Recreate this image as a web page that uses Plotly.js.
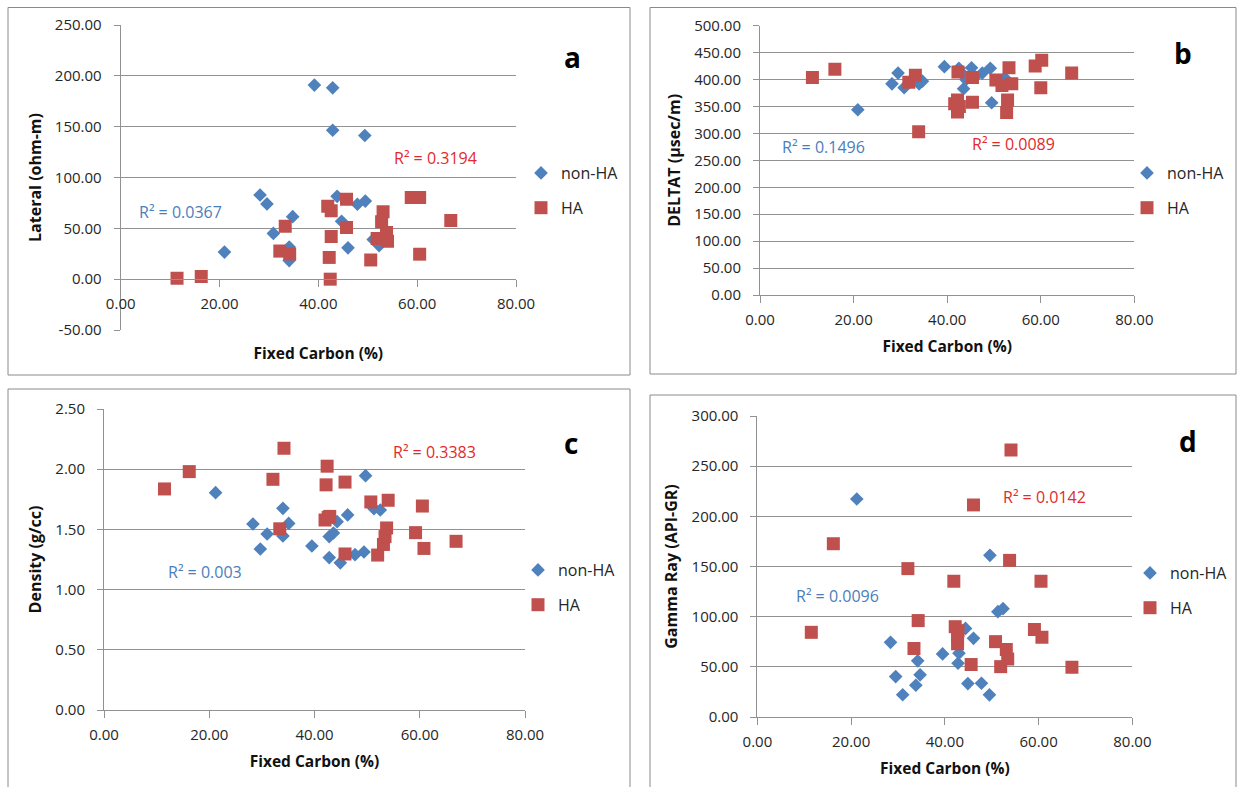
<!DOCTYPE html>
<html><head><meta charset="utf-8">
<script src="https://cdn.plot.ly/plotly-3.0.1.min.js"></script>
<style>html,body{margin:0;padding:0;background:#fff}#chart{width:1239px;height:787px}</style>
</head><body><div id="chart"></div>
<script>
// ---------- DATA ----------
const seriesNames = ['non-HA', 'HA'];
const xTitle = 'Fixed Carbon (%)';
const yTitles = ['Lateral (ohm-m)', 'DELTAT (µsec/m)', 'Density (g/cc)', 'Gamma Ray (API-GR)'];
const panelLetters = ['a', 'b', 'c', 'd'];
const r2NonHA = ['R² = 0.0367', 'R² = 0.1496', 'R² = 0.003', 'R² = 0.0096'];
const r2HA = ['R² = 0.3194', 'R² = 0.0089', 'R² = 0.3383', 'R² = 0.0142'];

// Panel a: Lateral (ohm-m)
const latNonHAx = [39.2, 42.9, 42.9, 49.4, 28.2, 29.6, 34.8, 30.9, 21.0, 34.1, 34.1, 43.8, 44.7, 46.0, 47.9, 49.5, 51.1, 52.3];
const latNonHAy = [190.9, 188.2, 146.5, 141.3, 82.8, 74.0, 61.5, 45.0, 26.6, 31.6, 18.3, 81.5, 57.0, 30.8, 73.7, 76.8, 39.0, 33.0];
const latHAx = [11.4, 16.3, 32.2, 33.3, 34.2, 41.9, 42.6, 42.6, 42.2, 42.4, 45.7, 45.7, 50.6, 51.9, 52.8, 53.1, 53.8, 54.0, 58.8, 60.5, 60.5, 66.8];
const latHAy = [1.0, 2.6, 27.6, 52.0, 24.8, 71.6, 67.4, 42.0, 21.4, 0.0, 78.5, 50.8, 18.9, 39.9, 56.4, 66.4, 45.9, 37.4, 80.3, 80.3, 24.6, 57.8];
const latTickVals = [-50, 0, 50, 100, 150, 200, 250];
const latTickText = ['-50.00', '0.00', '50.00', '100.00', '150.00', '200.00', '250.00'];

// Panel b: DELTAT (µsec/m)
const dtNonHAx = [20.9, 28.2, 29.5, 30.8, 34.0, 34.7, 39.4, 42.5, 43.5, 44.0, 45.2, 47.5, 49.2, 49.5, 52.3, 51.0, 42.9, 46.0];
const dtNonHAy = [344, 392, 412, 385, 392, 397, 424, 421, 383, 400, 422, 412, 421, 357, 403, 398, 414, 405];
const dtHAx = [11.2, 16.0, 31.8, 33.2, 33.9, 42.3, 41.6, 42.2, 42.2, 42.6, 45.4, 45.4, 50.4, 51.7, 53.2, 53.8, 52.9, 52.7, 58.8, 60.2, 60.0, 66.6];
const dtHAy = [404, 419, 395, 408, 303, 414, 355, 362, 340, 350, 404, 358, 399, 389, 422, 392, 362, 339, 425, 436, 385, 412];

// Panel c: Density (g/cc)
const denNonHAx = [21.2, 28.3, 29.7, 31.0, 34.0, 35.1, 34.0, 39.5, 42.8, 43.6, 44.3, 42.8, 44.9, 46.3, 47.7, 49.4, 49.7, 51.3, 52.5];
const denNonHAy = [1.805, 1.545, 1.337, 1.462, 1.675, 1.55, 1.446, 1.362, 1.44, 1.47, 1.564, 1.266, 1.222, 1.62, 1.29, 1.312, 1.946, 1.672, 1.661];
const denHAx = [11.5, 16.2, 32.1, 34.2, 33.4, 42.4, 42.2, 45.8, 42.0, 42.9, 42.6, 45.8, 50.7, 54.0, 52.0, 53.1, 53.4, 53.7, 60.5, 59.2, 60.8, 66.9];
const denHAy = [1.836, 1.98, 1.916, 2.174, 1.505, 2.025, 1.87, 1.893, 1.578, 1.608, 1.60, 1.296, 1.728, 1.742, 1.287, 1.375, 1.44, 1.512, 1.694, 1.473, 1.342, 1.401];

// Panel d: Gamma Ray (API-GR)
const grNonHAx = [21.2, 28.4, 29.5, 31.0, 34.2, 33.8, 34.7, 39.5, 42.8, 43.0, 44.4, 44.9, 46.1, 47.8, 49.6, 49.5, 51.3, 52.4];
const grNonHAy = [217.3, 74.4, 40.3, 22.2, 56.0, 31.6, 42.0, 62.9, 53.6, 63.5, 88.3, 33.3, 78.4, 33.6, 161.1, 22.1, 105.0, 108.0];
const grHAx = [11.5, 16.2, 32.1, 33.4, 34.3, 41.9, 42.2, 42.8, 42.7, 42.7, 45.6, 46.1, 50.8, 51.9, 53.1, 53.4, 53.8, 54.1, 59.1, 60.7, 60.5, 67.1];
const grHAy = [84.4, 172.7, 147.9, 68.3, 96.1, 135.3, 90.0, 86.0, 80.0, 73.0, 52.3, 211.4, 75.1, 50.2, 67.3, 57.8, 156.1, 266.0, 87.2, 79.4, 135.3, 49.6];

// ---------- STYLE / LAYOUT ----------
const W = 1239, H = 787;
const FONT = 'Open Sans, Liberation Sans, sans-serif';
const BLUE = '#4F81BD', RED = '#C0504D';
const BLUE_TXT = '#4A7EBB', RED_TXT = '#E3292B';
const GRID = '#929292';
const px = p => p / W;
const py = p => 1 - p / H;

const panels = [
  { nx: latNonHAx, ny: latNonHAy, hx: latHAx, hy: latHAy,
    plot: [120.7, 25, 516, 330], yr: [-50, 250], dt: 50, xAxisPx: 279,
    tickvals: latTickVals, ticktext: latTickText,
    box: [8, 7.5, 630, 375], letter: [572, 57], r2n: [180, 212], r2h: [435, 158], leg: [545, 170] },
  { nx: dtNonHAx, ny: dtNonHAy, hx: dtHAx, hy: dtHAy,
    plot: [760, 25.7, 1134.4, 295], yr: [0, 500], dt: 50, xAxisPx: null,
    box: [650, 7.5, 1236, 374], letter: [1183, 53], r2n: [824, 147], r2h: [1013, 144], leg: [1151, 170] },
  { nx: denNonHAx, ny: denNonHAy, hx: denHAx, hy: denHAy,
    plot: [104, 409, 525, 710], yr: [0, 2.5], dt: 0.5, xAxisPx: null,
    box: [8, 389, 630, 800], letter: [571, 443], r2n: [205, 572], r2h: [434, 452], leg: [542, 567] },
  { nx: grNonHAx, ny: grNonHAy, hx: grHAx, hy: grHAy,
    plot: [757.4, 416, 1132.4, 717], yr: [0, 300], dt: 50, xAxisPx: null,
    box: [650, 395, 1236, 800], letter: [1188, 441], r2n: [838, 596], r2h: [1044, 497], leg: [1154, 570] }
];

const data = [];
const layout = {
  width: W, height: H,
  margin: { l: 0, r: 0, t: 0, b: 0 },
  paper_bgcolor: '#fff', plot_bgcolor: 'rgba(0,0,0,0)',
  font: { family: FONT, color: '#262626' },
  showlegend: true,
  annotations: [], shapes: []
};

panels.forEach((p, i) => {
  const n = i === 0 ? '' : String(i + 1);
  const xa = 'x' + n, ya = 'y' + n;
  const legName = 'legend' + n;
  data.push({
    type: 'scatter', mode: 'markers', name: seriesNames[0], x: p.nx, y: p.ny,
    xaxis: xa, yaxis: ya, legend: legName, legendgroup: 'g' + i + 'n',
    marker: { symbol: 'diamond', size: 10.5, color: BLUE, line: { width: 0 } },
    hoverinfo: 'x+y'
  });
  data.push({
    type: 'scatter', mode: 'markers', name: seriesNames[1], x: p.hx, y: p.hy,
    xaxis: xa, yaxis: ya, legend: legName, legendgroup: 'g' + i + 'h',
    marker: { symbol: 'square', size: 13, color: RED, line: { width: 0 } },
    hoverinfo: 'x+y'
  });

  const xaxis = {
    domain: [px(p.plot[0]), px(p.plot[2])],
    range: [0, 80], dtick: 20, tick0: 0, tickformat: '.2f',
    showgrid: false, zeroline: false,
    showline: true, linecolor: GRID, linewidth: 1,
    ticks: 'outside', ticklen: 7, tickcolor: GRID, tickwidth: 1,
    ticklabelstandoff: 4,
    tickfont: { family: FONT, size: 15, color: '#262626' },
    title: { text: xTitle, font: { family: FONT, size: 15.5, color: '#111', weight: 'bold' }, standoff: 13 }
  };
  if (p.xAxisPx !== null) {
    xaxis.anchor = 'free';
    xaxis.position = py(p.xAxisPx);
    xaxis.title.standoff = 36;
  } else {
    xaxis.anchor = ya;
  }
  const yaxis = {
    domain: [py(p.plot[3]), py(p.plot[1])],
    range: p.yr, dtick: p.dt, tick0: 0, tickformat: '.2f', anchor: xa,
    showgrid: true, gridcolor: GRID, gridwidth: 1, zeroline: false,
    showline: true, linecolor: GRID, linewidth: 1,
    ticks: 'outside', ticklen: 6, tickcolor: GRID, tickwidth: 1,
    ticklabelstandoff: 9,
    tickfont: { family: FONT, size: 15, color: '#262626' },
    title: { text: yTitles[i], font: { family: FONT, size: 16, color: '#111', weight: 'bold' }, standoff: 9 }
  };
  if (p.tickvals) { yaxis.tickmode = 'array'; yaxis.tickvals = p.tickvals; yaxis.ticktext = p.ticktext; }
  layout['xaxis' + n] = xaxis;
  layout['yaxis' + n] = yaxis;

  layout[legName] = {
    x: px(p.leg[0] - 24), y: py(p.leg[1] - 14), xanchor: 'left', yanchor: 'top',
    font: { family: FONT, size: 16, color: '#262626' },
    bgcolor: 'rgba(0,0,0,0)', borderwidth: 0,
    traceorder: 'grouped', tracegroupgap: 11, itemsizing: 'trace'
  };

  layout.shapes.push({
    type: 'rect', xref: 'paper', yref: 'paper', layer: 'below',
    x0: px(p.box[0]), x1: px(p.box[2]), y0: py(p.box[3]), y1: py(p.box[1]),
    line: { color: '#8a8a8a', width: 1 }, fillcolor: 'rgba(0,0,0,0)'
  });

  layout.annotations.push(
    { xref: 'paper', yref: 'paper', x: px(p.letter[0]), y: py(p.letter[1]), text: panelLetters[i],
      showarrow: false, xanchor: 'center', yanchor: 'middle',
      font: { family: FONT, size: 28, color: '#000', weight: 'bold' } },
    { xref: 'paper', yref: 'paper', x: px(p.r2n[0]), y: py(p.r2n[1]), text: r2NonHA[i],
      showarrow: false, xanchor: 'center', yanchor: 'middle',
      font: { family: FONT, size: 16, color: BLUE_TXT } },
    { xref: 'paper', yref: 'paper', x: px(p.r2h[0]), y: py(p.r2h[1]), text: r2HA[i],
      showarrow: false, xanchor: 'center', yanchor: 'middle',
      font: { family: FONT, size: 16, color: RED_TXT } }
  );
});

Plotly.newPlot('chart', data, layout, { displayModeBar: false, staticPlot: true });
</script>
</body></html>
